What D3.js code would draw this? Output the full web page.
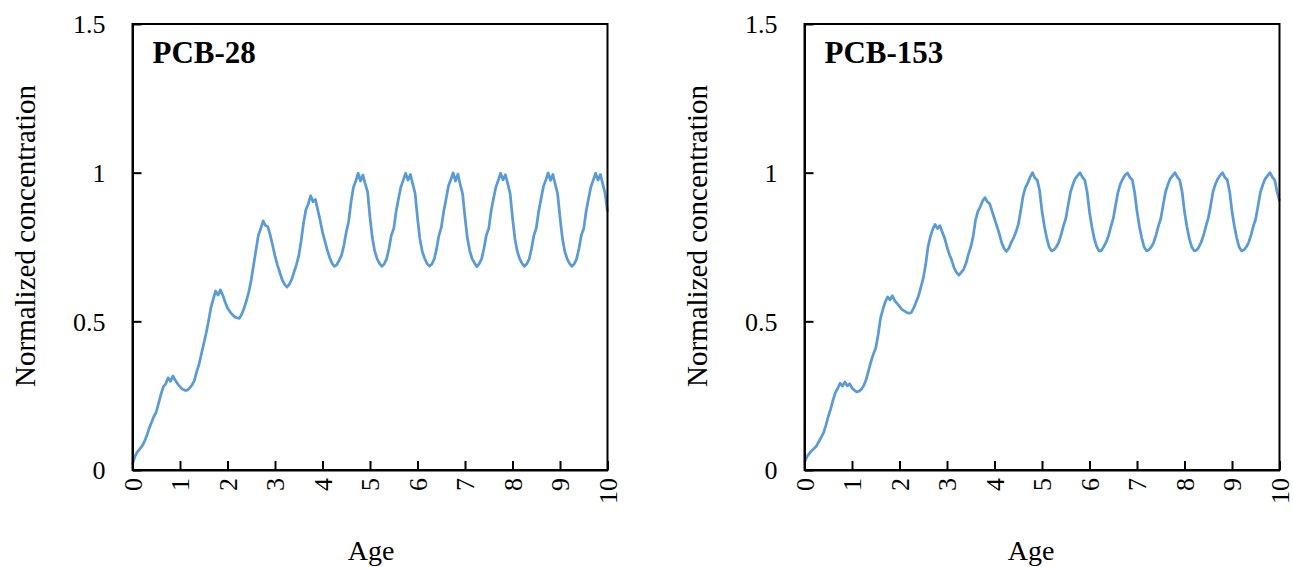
<!DOCTYPE html>
<html>
<head>
<meta charset="utf-8">
<script src="https://cdn.jsdelivr.net/npm/d3@7"></script>
<style>
  html, body { margin: 0; padding: 0; background: #fff; }
</style>
</head>
<body>
<div id="vis"></div>
<script>
// chart size
const W = 1293, H = 567;
const plotTop = 24, plotBottom = 470, plotWidth = 475;
const serif = "'Liberation Serif', 'Times New Roman', Times, serif";

// age grid: 0 to 10 in steps of 0.05 (201 samples)
const ages = d3.range(0, 201).map(i => i / 20);
const xTicks = [0, 1, 2, 3, 4, 5, 6, 7, 8, 9, 10];
const yTicks = [0, 0.5, 1, 1.5];

// normalized concentration, PCB-28 (one row per year)
const pcb28 = [
    0.020, 0.045, 0.060, 0.070, 0.080, 0.095, 0.115, 0.140, 0.160, 0.180, 0.195, 0.225, 0.255, 0.280, 0.290, 0.310, 0.298, 0.316, 0.302, 0.290,
    0.280, 0.272, 0.268, 0.268, 0.275, 0.285, 0.300, 0.330, 0.355, 0.390, 0.425, 0.460, 0.500, 0.545, 0.575, 0.602, 0.588, 0.606, 0.588, 0.565,
    0.545, 0.533, 0.523, 0.515, 0.512, 0.510, 0.524, 0.545, 0.570, 0.600, 0.640, 0.690, 0.740, 0.790, 0.812, 0.838, 0.822, 0.818, 0.790, 0.755,
    0.720, 0.690, 0.665, 0.640, 0.625, 0.615, 0.624, 0.640, 0.665, 0.690, 0.720, 0.770, 0.830, 0.875, 0.895, 0.922, 0.902, 0.910, 0.875, 0.840,
    0.800, 0.770, 0.740, 0.715, 0.695, 0.685, 0.690, 0.705, 0.722, 0.755, 0.800, 0.835, 0.900, 0.950, 0.972, 0.998, 0.972, 0.992, 0.962, 0.935,
    0.850, 0.780, 0.736, 0.710, 0.695, 0.685, 0.693, 0.710, 0.745, 0.790, 0.812, 0.870, 0.912, 0.952, 0.975, 0.998, 0.975, 0.994, 0.962, 0.930,
    0.848, 0.778, 0.735, 0.712, 0.694, 0.686, 0.692, 0.708, 0.742, 0.788, 0.815, 0.868, 0.910, 0.954, 0.976, 0.999, 0.972, 0.995, 0.960, 0.928,
    0.850, 0.780, 0.737, 0.710, 0.696, 0.684, 0.694, 0.710, 0.746, 0.790, 0.812, 0.871, 0.913, 0.951, 0.974, 0.998, 0.976, 0.993, 0.963, 0.930,
    0.849, 0.779, 0.736, 0.711, 0.695, 0.685, 0.693, 0.709, 0.744, 0.789, 0.813, 0.869, 0.911, 0.953, 0.975, 0.999, 0.974, 0.994, 0.961, 0.929,
    0.850, 0.780, 0.736, 0.710, 0.695, 0.685, 0.693, 0.710, 0.745, 0.790, 0.812, 0.870, 0.912, 0.952, 0.975, 0.998, 0.975, 0.994, 0.962, 0.930,
    0.868
];

// normalized concentration, PCB-153 (one row per year)
const pcb153 = [
    0.025, 0.045, 0.055, 0.065, 0.072, 0.080, 0.095, 0.110, 0.125, 0.150, 0.180, 0.205, 0.235, 0.260, 0.275, 0.292, 0.282, 0.296, 0.283, 0.290,
    0.276, 0.268, 0.263, 0.265, 0.272, 0.285, 0.305, 0.335, 0.365, 0.390, 0.410, 0.455, 0.510, 0.540, 0.565, 0.582, 0.572, 0.586, 0.570, 0.560,
    0.550, 0.540, 0.535, 0.530, 0.527, 0.530, 0.545, 0.565, 0.585, 0.615, 0.645, 0.690, 0.750, 0.785, 0.810, 0.826, 0.812, 0.822, 0.800, 0.780,
    0.750, 0.725, 0.705, 0.680, 0.665, 0.655, 0.665, 0.675, 0.695, 0.725, 0.750, 0.785, 0.840, 0.870, 0.885, 0.905, 0.916, 0.902, 0.895, 0.870,
    0.845, 0.820, 0.795, 0.765, 0.745, 0.735, 0.745, 0.765, 0.780, 0.800, 0.825, 0.870, 0.920, 0.950, 0.965, 0.985, 1.000, 0.982, 0.975, 0.940,
    0.870, 0.820, 0.780, 0.750, 0.737, 0.740, 0.750, 0.765, 0.790, 0.820, 0.845, 0.890, 0.935, 0.960, 0.980, 0.990, 1.000, 0.985, 0.975, 0.935,
    0.868, 0.818, 0.778, 0.752, 0.736, 0.738, 0.751, 0.766, 0.788, 0.818, 0.846, 0.891, 0.934, 0.962, 0.979, 0.992, 0.999, 0.984, 0.976, 0.934,
    0.870, 0.820, 0.780, 0.750, 0.737, 0.740, 0.750, 0.765, 0.790, 0.820, 0.845, 0.890, 0.935, 0.960, 0.980, 0.990, 1.000, 0.985, 0.975, 0.935,
    0.869, 0.819, 0.779, 0.751, 0.738, 0.739, 0.749, 0.766, 0.789, 0.819, 0.846, 0.889, 0.936, 0.961, 0.979, 0.991, 1.000, 0.984, 0.976, 0.936,
    0.870, 0.820, 0.780, 0.750, 0.737, 0.740, 0.750, 0.765, 0.790, 0.820, 0.845, 0.890, 0.935, 0.960, 0.980, 0.990, 1.000, 0.985, 0.975, 0.935,
    0.905
];

const panels = [
    { title: 'PCB-28', values: pcb28, left: 132.5, yTitleX: 25, ageX: 371 },
    { title: 'PCB-153', values: pcb153, left: 804.5, yTitleX: 697, ageX: 1031 }
];

const svg = d3.select('#vis')
    .append('svg')
    .attr('width', W)
    .attr('height', H);

panels.forEach(p => {
    const x = d3.scaleLinear().domain([0, 10]).range([p.left, p.left + plotWidth]);
    const y = d3.scaleLinear().domain([0, 1.5]).range([plotBottom, plotTop]);

    // line
    const line = d3.line()
        .x((d, i) => x(ages[i]))
        .y(d => y(d));

    svg.append('path')
        .datum(p.values)
        .attr('fill', 'none')
        .attr('stroke', '#5B9BD5')
        .attr('stroke-width', 2.75)
        .attr('stroke-linejoin', 'round')
        .attr('d', line);

    // frame
    svg.append('rect')
        .attr('x', x(0))
        .attr('y', y(1.5))
        .attr('width', x(10) - x(0))
        .attr('height', y(0) - y(1.5))
        .attr('fill', 'none')
        .attr('stroke', '#000')
        .attr('stroke-width', 2);

    // y axis, ticks inward
    const yAxis = svg.append('g')
        .attr('transform', `translate(${x(0)},0)`)
        .attr('font-family', serif)
        .call(d3.axisLeft(y)
            .tickValues(yTicks)
            .tickFormat(d => String(d))
            .tickSizeInner(-9)
            .tickSizeOuter(0)
            .tickPadding(27));
    yAxis.select('.domain').attr('stroke-width', 2);
    yAxis.selectAll('.tick line').attr('stroke-width', 2);
    yAxis.selectAll('.tick text')
        .style('font-family', serif)
        .style('font-size', '26px')
        .attr('dy', '0.34em');

    // x axis, ticks inward, labels rotated
    const xAxis = svg.append('g')
        .attr('transform', `translate(0,${y(0)})`)
        .attr('font-family', serif)
        .call(d3.axisBottom(x)
            .tickValues(xTicks)
            .tickFormat(d => String(d))
            .tickSizeInner(-9)
            .tickSizeOuter(0));
    xAxis.select('.domain').attr('stroke-width', 2);
    xAxis.selectAll('.tick line').attr('stroke-width', 2);
    xAxis.selectAll('.tick text')
        .style('font-family', serif)
        .style('font-size', '26px')
        .attr('transform', 'rotate(-90)')
        .attr('text-anchor', 'end')
        .attr('x', -8)
        .attr('y', 0)
        .attr('dy', '0.33em');

    // panel label
    svg.append('text')
        .attr('x', x(0) + 20)
        .attr('y', 63)
        .style('font-family', serif)
        .style('font-size', '31px')
        .style('font-weight', 'bold')
        .text(p.title);

    // axis titles
    svg.append('text')
        .attr('transform', `translate(${p.yTitleX},236) rotate(-90)`)
        .attr('text-anchor', 'middle')
        .attr('dy', '0.35em')
        .style('font-family', serif)
        .style('font-size', '29px')
        .text('Normalized concentration');

    svg.append('text')
        .attr('x', p.ageX)
        .attr('y', 560)
        .attr('text-anchor', 'middle')
        .style('font-family', serif)
        .style('font-size', '28px')
        .text('Age');
});
</script>
</body>
</html>
